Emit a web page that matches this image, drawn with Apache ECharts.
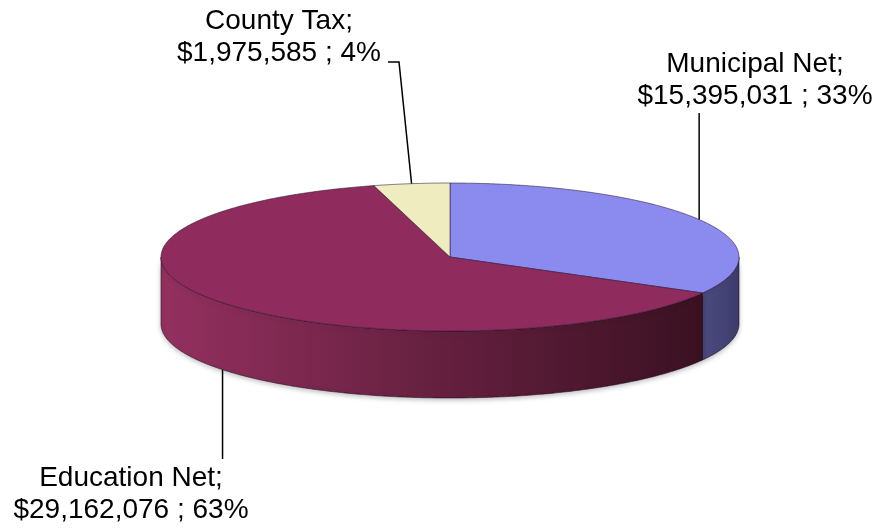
<!DOCTYPE html>
<html>
<head>
<meta charset="utf-8">
<script src="https://cdn.jsdelivr.net/npm/echarts@6/dist/echarts.min.js"></script>
<style>
  html, body { margin: 0; padding: 0; background: #fff; }
  #main { width: 883px; height: 529px; }
</style>
</head>
<body>
<div id="main"></div>
<script>
// budget split, clockwise from 12 o'clock
var names = ['Municipal Net', 'Education Net', 'County Tax'];
var values = [15395031, 29162076, 1975585];

// look of the fake 3d pie
var topColors = ['#8b8bef', '#8f2b5d', '#efedbf'];
var wallColors = [
    ['#4b4b80', '#3d3d6c'],
    ['#93305f', '#3a1121'],
    ['#c8c59a', '#a9a67f']
];
var labelPos = [[755, 80], [131, 494], [279, 37]];

var cx = 450, cy = 257, rx = 289, ry = 74, depth = 67;
var total = values.reduce(function (a, b) { return a + b; }, 0);

function sliceAngles(i) {
    var s = 0;
    for (var j = 0; j < i; j++) s += values[j];
    return [s / total * Math.PI * 2, (s + values[i]) / total * Math.PI * 2];
}
function rim(a, dy) {
    return [cx + rx * Math.sin(a), cy - ry * Math.cos(a) + (dy || 0)];
}
function arcPts(a0, a1, dy) {
    var pts = [], n = Math.max(2, Math.ceil((a1 - a0) / 0.01));
    for (var k = 0; k <= n; k++) pts.push(rim(a0 + (a1 - a0) * k / n, dy));
    return pts;
}

var chart = echarts.init(document.getElementById('main'));

var seriesData = names.map(function (n, i) { return { name: n, value: [values[i]] }; });

chart.setOption({
    animation: false,
    series: [
        {
            // side walls (front half only)
            type: 'custom',
            coordinateSystem: 'none',
            z: 1,
            data: seriesData,
            renderItem: function (params, api) {
                var i = params.dataIndex;
                var a = sliceAngles(i);
                var a0 = Math.max(a[0], Math.PI / 2), a1 = Math.min(a[1], Math.PI * 1.5);
                if (a1 <= a0) return { type: 'group', children: [] };
                var top = arcPts(a0, a1, 0);
                var bot = arcPts(a0, a1, depth).reverse();
                var x0 = Math.min(rim(a0)[0], rim(a1)[0]), x1 = Math.max(rim(a0)[0], rim(a1)[0]);
                return {
                    type: 'polygon',
                    shape: { points: top.concat(bot) },
                    style: {
                        fill: {
                            type: 'linear', x: x0, y: 0, x2: x1, y2: 0, global: true,
                            colorStops: [
                                { offset: 0, color: wallColors[i][0] },
                                { offset: 1, color: wallColors[i][1] }
                            ]
                        },
                        stroke: 'rgba(30,10,30,0.55)',
                        lineWidth: 1,
                        shadowColor: 'rgba(0,0,0,0.25)',
                        shadowBlur: 5,
                        shadowOffsetY: 2
                    }
                };
            }
        },
        {
            // top faces
            type: 'custom',
            coordinateSystem: 'none',
            z: 2,
            data: seriesData,
            renderItem: function (params, api) {
                var i = params.dataIndex;
                var a = sliceAngles(i);
                var pts = [[cx, cy]].concat(arcPts(a[0], a[1], 0));
                return {
                    type: 'polygon',
                    shape: { points: pts },
                    style: {
                        fill: topColors[i],
                        stroke: 'rgba(40,20,50,0.55)',
                        lineWidth: 1
                    }
                };
            }
        },
        {
            // labels with leader lines
            type: 'custom',
            coordinateSystem: 'none',
            z: 3,
            data: seriesData,
            renderItem: function (params, api) {
                var i = params.dataIndex;
                var a = sliceAngles(i);
                var mid = (a[0] + a[1]) / 2;
                var front = Math.cos(mid) < -0.3;
                var anchor = rim(mid, front ? depth : 0);
                var pos = labelPos[i];
                var v = api.value(0);
                var pct = Math.round(v / total * 100);
                var txt = names[i] + ';\n$' + v.toLocaleString('en-US') + ' ; ' + pct + '%';
                var line;
                if (front) {
                    line = [anchor, [anchor[0], pos[1] - 35]];
                } else if (Math.abs(anchor[0] - pos[0]) > 80) {
                    line = [anchor, [pos[0] + 120, pos[1] + 25], [pos[0] + 109, pos[1] + 25]];
                } else {
                    line = [anchor, [anchor[0], pos[1] + 33]];
                }
                return {
                    type: 'group',
                    children: [
                        {
                            type: 'polyline',
                            shape: { points: line },
                            style: { stroke: '#000', lineWidth: 1.5, fill: null }
                        },
                        {
                            type: 'text',
                            x: pos[0], y: pos[1],
                            style: {
                                text: txt,
                                font: '28px "Liberation Sans", Arial, sans-serif',
                                fill: '#000',
                                align: 'center',
                                verticalAlign: 'middle',
                                lineHeight: 32
                            }
                        }
                    ]
                };
            }
        }
    ]
});
</script>
</body>
</html>
